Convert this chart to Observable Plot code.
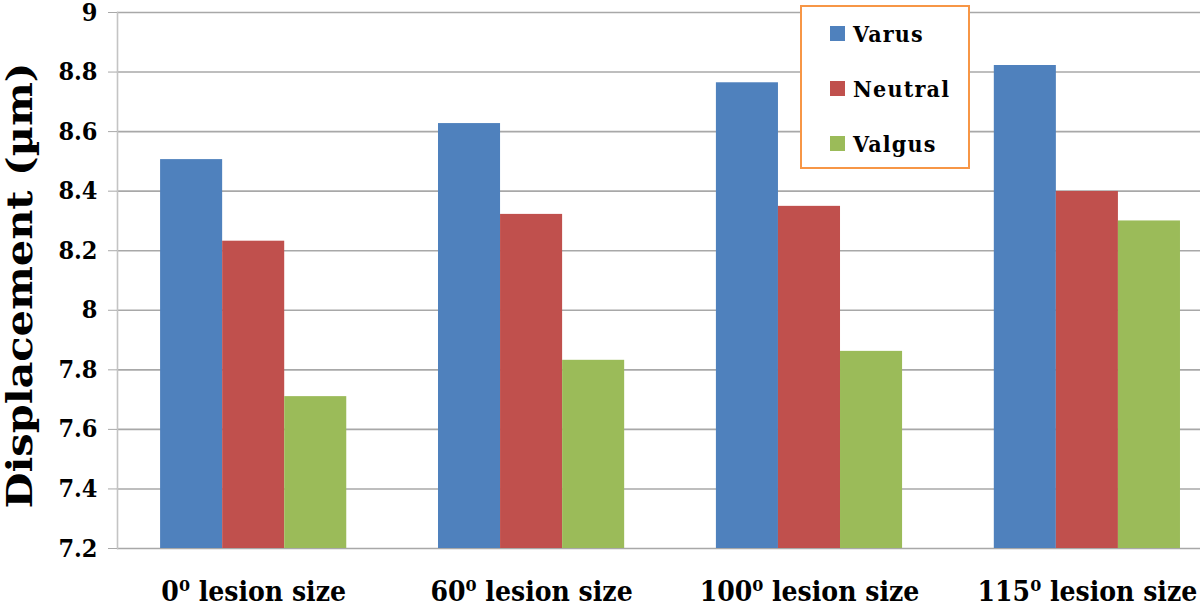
<!DOCTYPE html>
<html>
<head>
<meta charset="utf-8">
<script src="https://cdn.jsdelivr.net/npm/d3@7"></script>
<script src="https://cdn.jsdelivr.net/npm/@observablehq/plot@0.6"></script>
<style>
  body { margin: 0; background: #fff; }
  #wrap { position: relative; width: 1200px; height: 601px; overflow: hidden; }
  #chart svg text { font-family: "DejaVu Serif", serif; font-stretch: condensed; }
  #legend { position: absolute; left: 800px; top: 5px; width: 170px; height: 164px;
    border: 2px solid #F79646; background: #fff; box-sizing: border-box;
    font-family: "DejaVu Serif", serif; font-stretch: condensed; font-weight: bold; font-size: 23px; letter-spacing: 1.2px; }
  .item { position: absolute; left: 28px; display: flex; align-items: center; height: 30px; }
  .sw { width: 15px; height: 15px; margin-right: 8px; }
</style>
</head>
<body>
<div id="wrap"><div id="chart"></div><div id="legend"></div></div>
<script>
const categories = ["0", "60", "100", "115"];
const xLabels = ["0⁰ lesion size", "60⁰ lesion size", "100⁰ lesion size", "115⁰ lesion size"];
const series = ["Varus", "Neutral", "Valgus"];
const varus = [8.506, 8.627, 8.764, 8.822];
const neutral = [8.232, 8.322, 8.349, 8.399];
const valgus = [7.710, 7.832, 7.862, 8.300];
const colors = ["#4F81BD", "#C0504D", "#9BBB59"];
const yTicks = [7.2, 7.4, 7.6, 7.8, 8, 8.2, 8.4, 8.6, 8.8, 9];
const yLabel = "Displacement (µm)";

const values = [varus, neutral, valgus];
const barW = 0.2233;
const data = [];
categories.forEach((c, i) => {
  series.forEach((s, j) => {
    const x1 = i + (j - 1.5) * barW;
    data.push({cat: c, series: s, x1, x2: x1 + barW, value: values[j][i]});
  });
});

const chart = Plot.plot({
  width: 1200,
  height: 601,
  marginLeft: 117,
  marginRight: 0,
  marginTop: 12,
  marginBottom: 53,
  style: {fontFamily: "DejaVu Serif, serif", background: "#fff", color: "#000", overflow: "visible"},
  x: {type: "linear", domain: [-0.49, 3.407]},
  y: {domain: [7.2, 9]},
  color: {domain: series, range: colors},
  marks: [
    Plot.ruleY(yTicks, {stroke: "#a8a8a8", strokeWidth: 1.6}),
    Plot.rect(data, {x1: "x1", x2: "x2", y1: 7.2, y2: "value", fill: "series"}),
    Plot.frame({anchor: "left", stroke: "#c4c4c4", strokeWidth: 1.6}),
    Plot.axisY(yTicks, {tickSize: 9, tickPadding: 11, stroke: "#a8a8a8", fontSize: 25, fontWeight: "bold", label: null, tickFormat: d => String(d)}),
    Plot.axisX([0, 1, 2, 3], {tickSize: 0, tickPadding: 33, fontSize: 28, fontWeight: "bold", label: null, tickFormat: i => xLabels[i]}),
    Plot.text([yLabel], {frameAnchor: "left", textAnchor: "middle", lineAnchor: "middle", dx: -97, dy: 5, rotate: -90, fontSize: 35, fontWeight: "bold", text: d => d, className: "ylab"})
  ]
});
document.getElementById("chart").appendChild(chart);
d3.select(chart).selectAll(".ylab text").each(function () {
  const len = this.getComputedTextLength();
  const k = len > 0 ? 446 / len : 1;
  const t = this.getAttribute("transform") || "";
  this.setAttribute("transform", (t + ` scale(${k},1)`).trim());
});

const legend = document.getElementById("legend");
const tops = [11, 66, 121];
series.forEach((s, j) => {
  const it = document.createElement("div");
  it.className = "item";
  it.style.top = tops[j] + "px";
  it.innerHTML = `<div class="sw" style="background:${colors[j]}"></div><span>${s}</span>`;
  legend.appendChild(it);
});
</script>
</body>
</html>
